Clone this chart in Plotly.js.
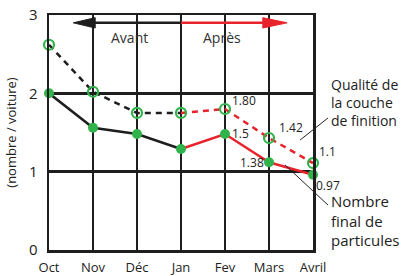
<!DOCTYPE html>
<html><head><meta charset="utf-8">
<script src="https://cdn.plot.ly/plotly-3.0.1.min.js"></script>
<style>body{margin:0;background:#fff}#c{width:401px;height:276px}</style>
</head><body><div id="c"></div>
<script>
const months = ['Oct','Nov','Déc','Jan','Fev','Mars','Avril'];
const qualite = [2.62, 2.02, 1.75, 1.75, 1.80, 1.43, 1.11];
const particules = [2.0, 1.56, 1.48, 1.29, 1.48, 1.12, 0.96];
const qualiteLabels = ['', '', '', '', '1.80', '1.42', '1.1'];
const partLabels = ['', '', '', '', '1.5', '1.38', '0.97'];
const yTicks = [0, 1, 2, 3];
const split = 3;

const idx = months.map((m, i) => i);
const green = '#2fb34a', red = '#e8232b', dark = '#1e1e1e';
const F = 'Open Sans, Liberation Sans, Arial, sans-serif';

const traces = [
  {x: idx.slice(0, split+1), y: qualite.slice(0, split+1), mode:'lines', line:{color:dark, width:2.5, dash:'6px,5px'}},
  {x: idx.slice(split), y: qualite.slice(split), mode:'lines', line:{color:red, width:2.5, dash:'6px,5px'}},
  {x: idx.slice(0, split+1), y: particules.slice(0, split+1), mode:'lines', line:{color:dark, width:2.5}},
  {x: idx.slice(split), y: particules.slice(split), mode:'lines', line:{color:red, width:2.5}},
  {x: idx, y: qualite, mode:'markers', cliponaxis:false, marker:{symbol:'circle-open', size:10, color:green, line:{width:2.2, color:green}}},
  {x: idx, y: particules, mode:'markers', cliponaxis:false, marker:{symbol:'circle', size:10, color:green}}
];

const ann = [];
const qShift = {4:[19,9], 5:[22,10], 6:[14,12]};
const pShift = {4:[15,1], 5:[-17,0], 6:[15,-11]};
qualiteLabels.forEach((t,i)=>{ if(t){ ann.push({x:idx[i], y:qualite[i], xref:'x', yref:'y', xshift:qShift[i][0], yshift:qShift[i][1], text:t, showarrow:false, font:{family:F,size:12,color:'#222'}}); }});
partLabels.forEach((t,i)=>{ if(t){ ann.push({x:idx[i], y:particules[i], xref:'x', yref:'y', xshift:pShift[i][0], yshift:pShift[i][1], text:t, showarrow:false, font:{family:F,size:12,color:'#222'}}); }});

ann.push({x:1.84, y:2.71, xref:'x', yref:'y', text:'Avant', showarrow:false, font:{family:F,size:14,color:'#333'}});
ann.push({x:3.93, y:2.71, xref:'x', yref:'y', text:'Après', showarrow:false, font:{family:F,size:14,color:'#333'}});

ann.push({x:1.06, y:0.755, xref:'paper', yref:'paper', xanchor:'left', yanchor:'top', align:'left', text:'Qualité de<br>la couche<br>de finition', showarrow:false, font:{family:F,size:14,color:'#222'}});
ann.push({x:1.06, y:0.26, xref:'paper', yref:'paper', xanchor:'left', yanchor:'top', align:'left', text:'Nombre<br>final de<br>particules', showarrow:false, font:{family:F,size:15,color:'#222'}});

// arrows in paper coordinates (plot spans 6 months horizontally, 3 units vertically)
const py = 2.9/3, ph = 0.022;
const shapes = [
  {type:'line', xref:'paper', yref:'paper', x0:0.951, y0:0.468, x1:1.057, y1:0.562, line:{color:'#222', width:1}},
  {type:'line', xref:'paper', yref:'paper', x0:0.894, y0:0.362, x1:1.057, y1:0.191, line:{color:'#222', width:1}},
  {type:'line', xref:'paper', yref:'paper', x0:0.5, y0:py, x1:0.17, y1:py, line:{color:dark, width:2.5}},
  {type:'path', xref:'paper', yref:'paper', path:`M 0.092,${py} L 0.175,${py+ph} L 0.175,${py-ph} Z`, fillcolor:dark, line:{color:dark, width:1}},
  {type:'line', xref:'paper', yref:'paper', x0:0.5, y0:py, x1:0.815, y1:py, line:{color:red, width:2.5}},
  {type:'path', xref:'paper', yref:'paper', path:`M 0.902,${py} L 0.81,${py+ph} L 0.81,${py-ph} Z`, fillcolor:red, line:{color:red, width:1}}
];

const layout = {
  width:401, height:276,
  margin:{l:49, r:88, t:15, b:26},
  paper_bgcolor:'#fff', plot_bgcolor:'#fff',
  showlegend:false,
  xaxis:{range:[0,6], tickvals:idx, ticktext:months, showgrid:true, gridcolor:dark, gridwidth:2.5, showline:true, linecolor:dark, linewidth:2.5, mirror:true, zeroline:false, ticks:'', ticklabelstandoff:4, tickfont:{family:F,size:13,color:'#222'}},
  yaxis:{range:[0,3], tickvals:yTicks, showgrid:true, gridcolor:dark, gridwidth:2.5, showline:true, linecolor:dark, linewidth:2.5, mirror:true, zeroline:false, ticks:'', ticklabelstandoff:6, tickfont:{family:F,size:15,color:'#222'}, title:{text:'(nombre / voiture)', font:{family:F,size:13,color:'#222'}, standoff:10}},
  annotations:ann, shapes:shapes
};
Plotly.newPlot('c', traces, layout, {displayModeBar:false, staticPlot:true});
</script></body></html>
